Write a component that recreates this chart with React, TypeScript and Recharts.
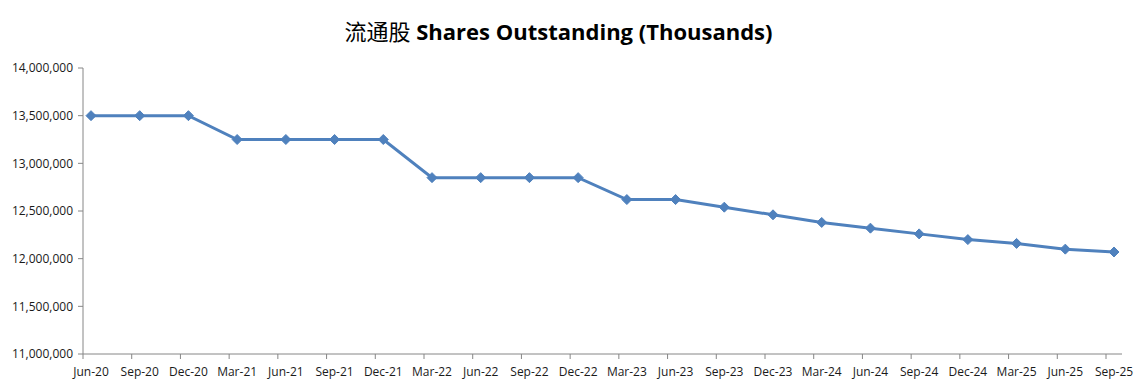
import React from "react";
import { LineChart, Line, XAxis, YAxis } from "recharts";

const quarters = [
  "Jun-20", "Sep-20", "Dec-20", "Mar-21", "Jun-21", "Sep-21", "Dec-21",
  "Mar-22", "Jun-22", "Sep-22", "Dec-22", "Mar-23", "Jun-23", "Sep-23",
  "Dec-23", "Mar-24", "Jun-24", "Sep-24", "Dec-24", "Mar-25", "Jun-25", "Sep-25",
];

const shares = [
  13500000, 13500000, 13500000, 13250000, 13250000, 13250000, 13250000,
  12850000, 12850000, 12850000, 12850000, 12620000, 12620000, 12540000,
  12460000, 12380000, 12320000, 12260000, 12200000, 12160000, 12100000, 12070000,
];

const yTicks = [11000000, 11500000, 12000000, 12500000, 13000000, 13500000, 14000000];

const data = quarters.map((q, i) => ({ quarter: q, shares: shares[i] }));

const FONT = "'Open Sans', 'Liberation Sans', sans-serif";
const AXIS = "#868686";
const BLUE = "#4F81BD";

function Diamond(props: any) {
  const { cx, cy } = props;
  if (cx == null || cy == null) return null;
  const r = 5;
  return (
    <path
      d={`M${cx},${cy - r} L${cx + r},${cy} L${cx},${cy + r} L${cx - r},${cy} Z`}
      fill={BLUE}
      stroke={BLUE}
      strokeWidth={1}
    />
  );
}

function XTick(props: any) {
  const { x, y, payload } = props;
  return (
    <g>
      <line x1={x - 8} x2={x - 8} y1={y} y2={y + 5} stroke={AXIS} />
      <text
        x={x}
        y={y + 22}
        textAnchor="middle"
        fontSize={12}
        fontFamily={FONT}
        fill="#1a1a1a"
      >
        {payload.value}
      </text>
    </g>
  );
}

export default function App() {
  return (
    <div
      style={{
        position: "absolute",
        left: 0,
        top: 0,
        width: 1145,
        height: 387,
        background: "#fff",
      }}
    >
      <div
        style={{
          position: "absolute",
          left: 0,
          top: 14,
          width: 1117,
          textAlign: "center",
          fontSize: 22,
          fontWeight: "bold",
          fontFamily: "'Open Sans', 'Noto Sans CJK SC', sans-serif",
          color: "#000",
          whiteSpace: "nowrap",
        }}
      >
        <span style={{ fontFamily: "'Noto Sans CJK SC', sans-serif", fontWeight: 400 }}>
          流通股
        </span>{" "}
        Shares Outstanding (Thousands)
      </div>
      <LineChart
        width={1145}
        height={387}
        data={data}
        margin={{ top: 68, right: 23, bottom: 0, left: 0 }}
      >
        <XAxis
          dataKey="quarter"
          interval={0}
          padding={{ left: 8, right: 8 }}
          axisLine={{ stroke: AXIS }}
          tickLine={false}
          tickSize={0}
          tickMargin={0}
          tick={<XTick />}
          height={33}
        />
        <YAxis
          domain={[11000000, 14000000]}
          ticks={yTicks}
          interval={0}
          width={83}
          axisLine={{ stroke: AXIS }}
          tickLine={{ stroke: AXIS }}
          tickSize={5}
          tickMargin={5}
          tickFormatter={(v: number) => v.toLocaleString("en-US")}
          tick={{ fontSize: 12, fontFamily: FONT, fill: "#1a1a1a" }}
        />
        <Line
          type="linear"
          dataKey="shares"
          stroke={BLUE}
          strokeWidth={3}
          dot={<Diamond />}
          activeDot={false}
          isAnimationActive={false}
        />
      </LineChart>
    </div>
  );
}
